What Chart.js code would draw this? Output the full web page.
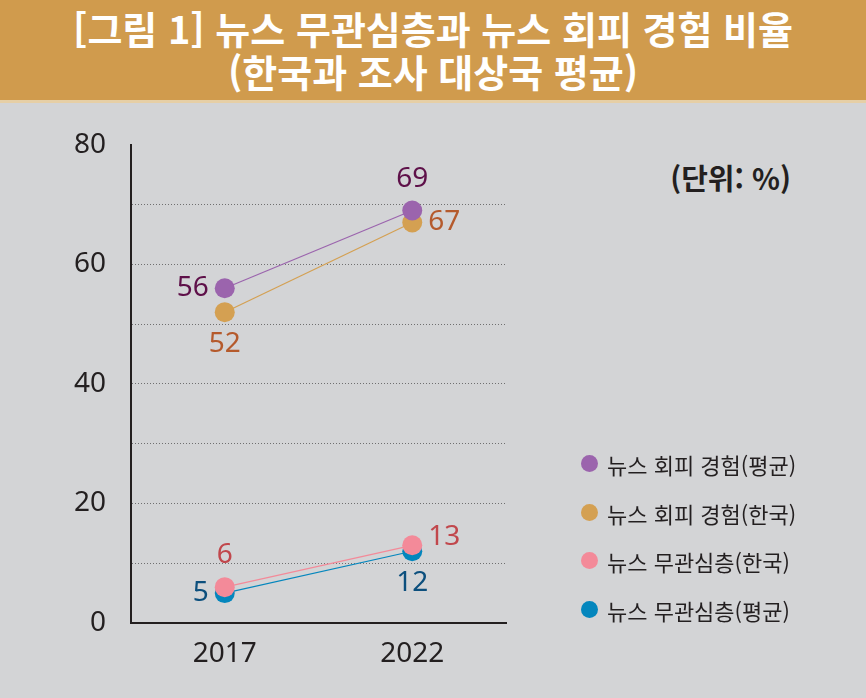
<!DOCTYPE html>
<html lang="ko">
<head>
<meta charset="utf-8">
<script src="https://cdn.jsdelivr.net/npm/chart.js@4.4.1/dist/chart.umd.min.js"></script>
<style>
    html, body { margin: 0; padding: 0; }
    body { width: 866px; height: 698px; background: #d3d4d6; position: relative; overflow: hidden; }
    #title {
        position: absolute; left: 0; top: 0; width: 866px; height: 100px;
        background: #d09b4d; border-bottom: 3px solid #e6cfa6;
        color: #fff; font-family: "Noto Sans CJK KR", sans-serif; font-weight: 700;
        font-size: 38px; line-height: 43px; text-align: center;
    }
    #title div:first-child { padding-top: 6px; }
    #unit {
        position: absolute; right: 75px; top: 156px;
        font-family: "Noto Sans CJK KR", sans-serif; font-weight: 700; font-size: 29px; color: #231f20;
    }
    #chartBox { position: absolute; left: 0; top: 103px; width: 866px; height: 595px; }
    #legend { position: absolute; left: 581px; top: 450px; }
    .item { height: 48.5px; display: flex; align-items: flex-start;
        font-family: "Noto Sans CJK KR", sans-serif; font-size: 22px; color: #231f20; line-height: 28px; }
    .dot { width: 17px; height: 17px; border-radius: 50%; margin-top: 5px; margin-right: 9px; }
</style>
</head>
<body>
<div id="title"><div>[그림 1] 뉴스 무관심층과 뉴스 회피 경험 비율</div><div>(한국과 조사 대상국 평균)</div></div>
<div id="unit">(단위: %)</div>
<div id="chartBox"><canvas id="chart"></canvas></div>
<div id="legend"></div>
<script>
// 데이터
const years = ['2017', '2022'];
const seriesNames = ['뉴스 회피 경험(평균)', '뉴스 회피 경험(한국)', '뉴스 무관심층(한국)', '뉴스 무관심층(평균)'];
const avoidAvg = [56, 69];
const avoidKorea = [52, 67];
const apathyKorea = [6, 13];
const apathyAvg = [5, 12];
const yTickLabels = [0, 20, 40, 60, 80];

// 색상 / 라벨 위치 (스타일)
const pointColors = ['#9b64ad', '#d4a052', '#f38a99', '#0486bd'];
const labelColors = ['#5e1049', '#b55a2c', '#c1474c', '#0c4f7d'];
const labelPlaces = [['left', 'top'], ['bottom', 'right'], ['top', 'right'], ['left', 'bottom']];

const seriesData = [avoidAvg, avoidKorea, apathyKorea, apathyAvg];

const valueLabels = {
    id: 'valueLabels',
    afterDatasetsDraw(chart) {
        const ctx = chart.ctx;
        ctx.save();
        ctx.font = '28px "Noto Sans", sans-serif';
        chart.data.datasets.forEach((ds, i) => {
            chart.getDatasetMeta(i).data.forEach((pt, j) => {
                const place = labelPlaces[i][j];
                let x = pt.x, y = pt.y;
                ctx.fillStyle = labelColors[i];
                ctx.textBaseline = 'middle';
                if (place === 'left') { ctx.textAlign = 'right'; x -= 16; }
                else if (place === 'right') { ctx.textAlign = 'left'; x += 16; }
                else if (place === 'top') { ctx.textAlign = 'center'; y -= 32; }
                else { ctx.textAlign = 'center'; y += 32; }
                if (i === 2 && j === 1) y -= 8;
                ctx.fillText(String(ds.data[j]), x, y);
            });
        });
        ctx.restore();
    }
};

const ctx = document.getElementById('chart').getContext('2d');
const myChart = new Chart(ctx, {
    type: 'line',
    data: {
        labels: years,
        datasets: seriesData.map((d, i) => ({
            label: seriesNames[i],
            data: d,
            borderColor: pointColors[i],
            backgroundColor: pointColors[i],
            borderWidth: 1.2,
            pointRadius: 10,
            pointBorderWidth: 0,
            pointHoverRadius: 10,
            tension: 0
        }))
    },
    options: {
        responsive: true,
        maintainAspectRatio: false,
        animation: false,
        layout: { padding: { left: 0, right: 360, top: 40, bottom: 0 } },
        plugins: { legend: { display: false }, tooltip: { enabled: false } },
        scales: {
            x: {
                offset: true,
                grid: { display: false },
                border: { display: true, color: '#231f20', width: 2 },
                ticks: { color: '#231f20', font: { family: 'Noto Sans', size: 28 }, padding: 6 },
                afterFit: (s) => { s.height = 75; }
            },
            y: {
                min: 0, max: 80,
                ticks: {
                    stepSize: 10,
                    color: '#231f20',
                    font: { family: 'Noto Sans', size: 28 },
                    padding: 25,
                    callback: (v) => yTickLabels.includes(v) ? String(v) : ''
                },
                grid: {
                    drawTicks: false,
                    lineWidth: 1,
                    color: (c) => (c.tick && (c.tick.value === 0 || c.tick.value === 80)) ? 'rgba(0,0,0,0)' : '#6f6f70'
                },
                border: { display: true, color: '#231f20', width: 2, dash: [1, 2] },
                afterFit: (s) => { s.width = 131; }
            }
        }
    },
    plugins: [valueLabels]
});

// 범례
document.getElementById('legend').innerHTML = seriesNames.map((n, i) =>
    `<div class="item"><span class="dot" style="background:${pointColors[i]}"></span>${n}</div>`).join('');
</script>
</body>
</html>
